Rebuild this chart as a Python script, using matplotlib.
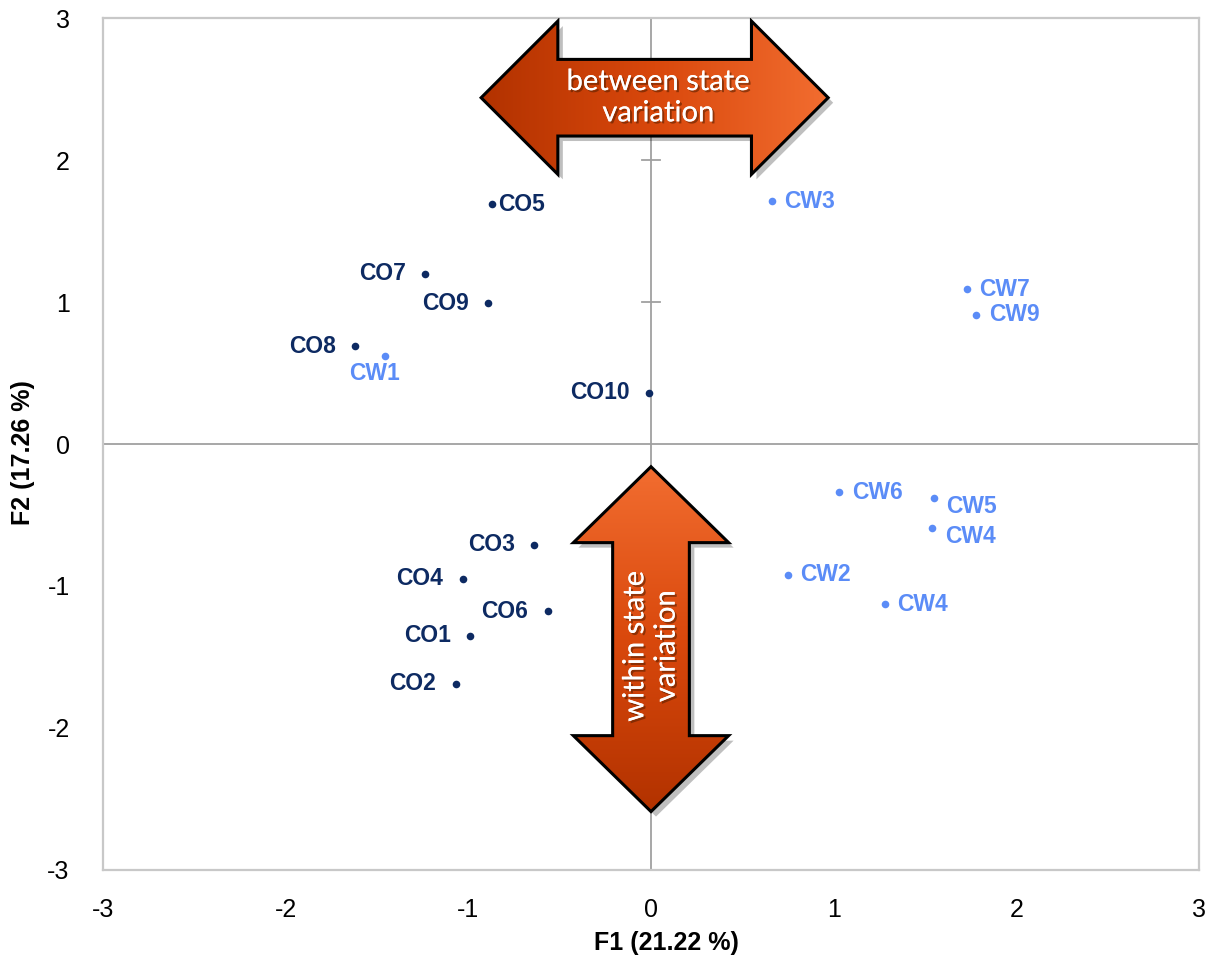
import matplotlib.pyplot as plt
import numpy as np
from matplotlib.patches import Polygon
import matplotlib.transforms as mtransforms
import matplotlib.patheffects as pe
from matplotlib.colors import LinearSegmentedColormap

plt.rcParams["axes.unicode_minus"] = False

# scores F1 / F2
co_names = ["CO1", "CO2", "CO3", "CO4", "CO5", "CO6", "CO7", "CO8", "CO9", "CO10"]
co_f1 = [-0.99, -1.07, -0.64, -1.03, -0.87, -0.565, -1.235, -1.62, -0.89, -0.01]
co_f2 = [-1.35, -1.69, -0.71, -0.95, 1.69, -1.18, 1.20, 0.69, 0.99, 0.36]

cw_names = ["CW1", "CW2", "CW3", "CW4", "CW4", "CW5", "CW6", "CW7", "CW9"]
cw_f1 = [-1.455, 0.75, 0.66, 1.28, 1.54, 1.55, 1.03, 1.73, 1.78]
cw_f2 = [0.62, -0.92, 1.71, -1.13, -0.59, -0.38, -0.34, 1.09, 0.91]

xticks = [-3, -2, -1, 0, 1, 2, 3]
yticks = [-3, -2, -1, 0, 1, 2, 3]

co_color = "#0d2a62"
cw_color = "#5b8cf7"
tick_font = "Liberation Sans"

fig = plt.figure(figsize=(12.05, 9.6), dpi=100)
ax = fig.add_axes([0.0855, 0.094, 0.9095, 0.887])
ax.set_xlim(-3, 3)
ax.set_ylim(-3, 3)

for s in ax.spines.values():
    s.set_color("#c8c8c8")
    s.set_linewidth(1.6)
ax.tick_params(length=0, labelsize=18)
ax.tick_params(axis="x", pad=20)
ax.tick_params(axis="y", pad=24)
ax.set_xticks(xticks)
ax.set_yticks(yticks)
for lab in ax.get_xticklabels() + ax.get_yticklabels():
    lab.set_fontfamily(tick_font)

# central axes with small ticks
ax.axhline(0, color="#a0a0a0", lw=1.3, zorder=1)
ax.axvline(0, color="#a0a0a0", lw=1.3, zorder=1)
tw = 0.05
for t in yticks:
    if t != 0:
        ax.plot([-tw, tw], [t, t], color="#a0a0a0", lw=1.3, zorder=1)

ax.set_xlabel("F1 (21.22 %)", fontsize=18, fontweight="bold", family=tick_font)
ax.xaxis.set_label_coords(0.514, -0.072)
ax.set_ylabel("F2 (17.26 %)", fontsize=18, fontweight="bold", family=tick_font)
ax.yaxis.set_label_coords(-0.062, 0.49)


def draw_arrow(pts, vertical):
    poly = Polygon(pts, closed=True, facecolor="none", edgecolor="black", lw=2.2, zorder=6)
    shadow = Polygon(pts, closed=True, facecolor="#000000", edgecolor="none", alpha=0.25, zorder=4,
                     transform=mtransforms.offset_copy(ax.transData, fig=fig, x=5, y=-5, units="dots"))
    ax.add_patch(shadow)
    ax.add_patch(poly)
    xs = [p[0] for p in pts]
    ys = [p[1] for p in pts]
    cmap = LinearSegmentedColormap.from_list("org", ["#b23200", "#d9480c", "#f26d30"])
    g = np.linspace(0, 1, 256)
    if vertical:
        img = g[:, None] * np.ones((1, 16))
    else:
        img = np.ones((16, 1)) * g[None, :]
    im = ax.imshow(img, cmap=cmap, extent=[min(xs), max(xs), min(ys), max(ys)],
                   origin="lower", aspect="auto", zorder=5)
    im.set_clip_path(poly)


# horizontal arrow
hx0, hx1, hy, hh = -0.93, 0.97, 2.44, 0.42
sh, hw, hs = 0.27, 0.54, 0.54
h_pts = [(hx0, hy), (hx0 + hh, hy + hw), (hx0 + hh, hy + sh), (hx1 - hh, hy + sh),
         (hx1 - hh, hy + hw), (hx1, hy), (hx1 - hh, hy - hw), (hx1 - hh, hy - sh),
         (hx0 + hh, hy - sh), (hx0 + hh, hy - hw)]
draw_arrow(h_pts, vertical=False)

# vertical arrow
vy0, vy1, vx = -2.59, -0.16, 0.0
vl, vs, vw = 0.535, 0.21, 0.425
v_pts = [(vx, vy1), (vx + vw, vy1 - vl), (vx + vs, vy1 - vl), (vx + vs, vy0 + vl),
         (vx + vw, vy0 + vl), (vx, vy0), (vx - vw, vy0 + vl), (vx - vs, vy0 + vl),
         (vx - vs, vy1 - vl), (vx - vw, vy1 - vl)]
draw_arrow(v_pts, vertical=True)

shadow_fx = [pe.withSimplePatchShadow(offset=(1.5, -1.5), shadow_rgbFace="#5a2000", alpha=0.6), pe.Normal()]
ax.text((hx0 + hx1) / 2 + 0.02, hy, "between state\nvariation", color="white", fontsize=21, family="Lato",
        ha="center", va="center", linespacing=1.25, zorder=7, path_effects=shadow_fx)
ax.text(vx, (vy0 + vy1) / 2 - 0.05, "within state\nvariation", color="white", fontsize=21, family="Lato",
        ha="center", va="center", rotation=90, linespacing=1.25, zorder=7, path_effects=shadow_fx)

# points
ax.scatter(co_f1, co_f2, s=30, color=co_color, zorder=3, linewidths=0)
ax.scatter(cw_f1, cw_f2, s=30, color=cw_color, zorder=3, linewidths=0)

lab_kw = dict(fontsize=16.5, fontweight="bold", family=tick_font, zorder=3)
right_of = {"CO5"}
for n, x, y in zip(co_names, co_f1, co_f2):
    if n in right_of:
        ax.annotate(n, (x, y), xytext=(4, 0), textcoords="offset points", ha="left", va="center",
                    color=co_color, **lab_kw)
    else:
        ax.annotate(n, (x, y), xytext=(-14, 0), textcoords="offset points", ha="right", va="center",
                    color=co_color, **lab_kw)
for n, x, y in zip(cw_names, cw_f1, cw_f2):
    if n == "CW1":
        ax.annotate(n, (x, y), xytext=(-8, -4), textcoords="offset points", ha="center", va="top",
                    color=cw_color, **lab_kw)
    else:
        dy = -6 if y < -0.35 and x > 1.4 else 0
        ax.annotate(n, (x, y), xytext=(9, dy), textcoords="offset points", ha="left", va="center",
                    color=cw_color, **lab_kw)

plt.savefig("out.png", dpi=100)
